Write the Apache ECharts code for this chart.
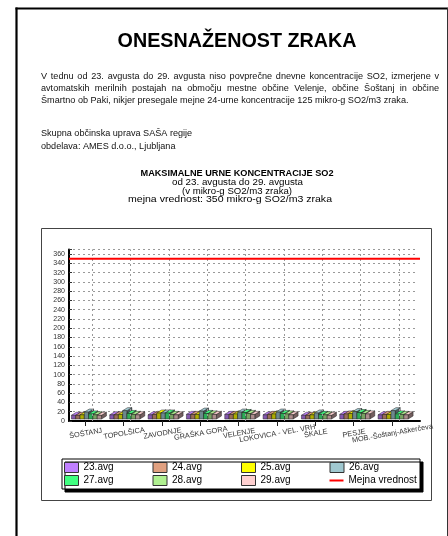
<!DOCTYPE html>
<html><head><meta charset="utf-8">
<script src="https://cdn.jsdelivr.net/npm/echarts@6/dist/echarts.min.js"></script>
<style>html,body{margin:0;padding:0;background:#fff}#c{width:448px;height:536px}</style>
</head><body><div id="c"></div>
<script>
// ---- data ----
const categories = ['ŠOŠTANJ','TOPOLŠICA','ZAVODNJE','GRAŠKA GORA','VELENJE','LOKOVICA - VEL. VRH','ŠKALE','PESJE','MOB.-Šoštanj-Aškerčeva'];
const seriesNames = ['23.avg','24.avg','25.avg','26.avg','27.avg','28.avg','29.avg'];
const avg23 = [8, 9, 9, 10, 10, 9, 8, 10, 9];
const avg24 = [8, 9, 10, 10, 10, 10, 8, 11, 10];
const avg25 = [9, 10, 13, 10, 11, 11, 9, 12, 10];
const avg26 = [15, 18, 13, 17, 15, 15, 13, 16, 18];
const avg27 = [11, 12, 13, 12, 14, 12, 10, 14, 11];
const avg28 = [9, 10, 10, 11, 12, 11, 9, 12, 10];
const avg29 = [8, 9, 9, 10, 10, 9, 8, 11, 9];
const seriesValues = [avg23, avg24, avg25, avg26, avg27, avg28, avg29];
const limitName = 'Mejna vrednost';
const limitValue = [350, 350];
const yMax = 370, yStep = 20;
const pageTitle = 'ONESNAŽENOST ZRAKA';
const paragraphLines = [
  'V tednu od 23. avgusta do 29. avgusta niso povprečne dnevne koncentracije SO2, izmerjene v',
  'avtomatskih merilnih postajah na območju mestne občine Velenje, občine Šoštanj in občine',
  'Šmartno ob Paki, nikjer presegale mejne 24-urne koncentracije 125 mikro-g SO2/m3 zraka.'
];
const creditLines = ['Skupna občinska uprava SAŠA regije', 'obdelava: AMES d.o.o., Ljubljana'];
const chartTitleLines = [
  'MAKSIMALNE URNE KONCENTRACIJE SO2',
  'od 23. avgusta do 29. avgusta',
  '(v mikro-g SO2/m3 zraka)',
  'mejna vrednost: 350 mikro-g SO2/m3 zraka'
];

// ---- styles ----
const colors = ['#c080ff','#e0a080','#ffff00','#a0c8d0','#40ff80','#b0f090','#ffd0d0'];
const FF = '"Liberation Sans", Arial, sans-serif';
const ctx = document.createElement('canvas').getContext('2d');
function textW(t, size, weight) { ctx.font = (weight || 'normal') + ' ' + size + 'px ' + FF; return ctx.measureText(t).width; }
function fit(t, target, weight) { return 100 * target / textW(t, 100, weight); }
function shade(hex, f) {
  const n = parseInt(hex.slice(1), 16);
  const r = Math.round(((n >> 16) & 255) * f), g = Math.round(((n >> 8) & 255) * f), b = Math.round((n & 255) * f);
  return 'rgb(' + r + ',' + g + ',' + b + ')';
}
function txt(text, x, y, size, weight, align, color, sx) {
  return { type: 'text', x: x, y: y, z: 10, scaleX: sx || 1, style: { text: text, fontSize: size, fontFamily: FF, fontWeight: weight || 'normal',
    fill: color || '#000', textAlign: align || 'left', align: align || 'left', textVerticalAlign: 'middle', verticalAlign: 'middle' } };
}

const graphics = [];
// page borders
graphics.push({ type: 'line', shape: { x1: 16.5, y1: 7.5, x2: 16.5, y2: 536 }, style: { stroke: '#000', lineWidth: 2.2 } });
graphics.push({ type: 'line', shape: { x1: 15.5, y1: 8.5, x2: 448, y2: 8.5 }, style: { stroke: '#000', lineWidth: 2.2 } });
graphics.push({ type: 'line', shape: { x1: 447.5, y1: 8, x2: 447.5, y2: 536 }, style: { stroke: '#333', lineWidth: 1 } });
// chart box
graphics.push({ type: 'rect', shape: { x: 41.5, y: 228.5, width: 390, height: 272 }, style: { fill: 'none', stroke: '#444', lineWidth: 1 } });

// title
graphics.push(txt(pageTitle, 237, 41.5, fit(pageTitle, 239, 'bold'), 'bold', 'center'));
// paragraph (justified)
const pSize = fit(paragraphLines[2], 368);
const pY = [76, 88, 100];
const pLeft = 41, pRight = 439;
paragraphLines.forEach(function (line, i) {
  if (i === paragraphLines.length - 1) { graphics.push(txt(line, pLeft, pY[i], pSize, 'normal', 'left', '#111')); return; }
  const words = line.split(' ');
  const widths = words.map(function (w) { return textW(w, pSize); });
  const total = widths.reduce(function (a, b) { return a + b; }, 0);
  const gap = (pRight - pLeft - total) / (words.length - 1);
  let x = pLeft;
  words.forEach(function (w, k) { graphics.push(txt(w, x, pY[i], pSize, 'normal', 'left', '#111')); x += widths[k] + gap; });
});
graphics.push(txt(creditLines[0], pLeft, 133, pSize, 'normal', 'left', '#111'));
graphics.push(txt(creditLines[1], pLeft, 146, pSize, 'normal', 'left', '#111'));
// chart title (font sizes stretched horizontally to measured widths)
const ctFont = 9.2;
const ctTargets = [193, 131, 110, 204];
const ctY = [173.5, 182.6, 191, 199.4];
const ctX = [237, 237.5, 237, 230];
chartTitleLines.forEach(function (l, i) {
  const wgt = i === 0 ? 'bold' : 'normal';
  const sx = ctTargets[i] / textW(l, ctFont, wgt);
  graphics.push(txt(l, ctX[i], ctY[i], ctFont, wgt, 'center', '#000', sx));
});

// ---- 3D bar renderer ----
function make3D(si) {
  return function (params, api) {
    const ci = api.value(0), v = api.value(1);
    const c0 = api.coord([ci, 0]), c1 = api.coord([ci, v]);
    const band = api.size([1, 0])[0];
    const w = band * 0.112;
    const x0 = c0[0] - 3.2 * w + si * w, x1 = x0 + w;
    const yb = c0[1] - 2, yt = c1[1] - 2;
    const dx = w * 1.15, dy = 3;
    const col = colors[si];
    const st = { stroke: '#222', lineWidth: 0.5 };
    return { type: 'group', children: [
      { type: 'polygon', shape: { points: [[x1, yb], [x1 + dx, yb - dy], [x1 + dx, yt - dy], [x1, yt]] }, style: Object.assign({ fill: shade(col, 0.45) }, st) },
      { type: 'polygon', shape: { points: [[x0, yt], [x1, yt], [x1 + dx, yt - dy], [x0 + dx, yt - dy]] }, style: Object.assign({ fill: col }, st) },
      { type: 'rect', shape: { x: x0, y: yt, width: w, height: yb - yt }, style: Object.assign({ fill: shade(col, 0.68) }, st) }
    ] };
  };
}

const gridTop = 249.4, gridH = 171.6;
const series = seriesNames.map(function (name, si) {
  return {
    name: name, type: 'custom', xAxisIndex: 0, yAxisIndex: 0, z: 3,
    itemStyle: { color: colors[si] },
    renderItem: make3D(si),
    encode: { x: 0, y: 1 },
    data: seriesValues[si].map(function (v, ci) { return [ci, v]; })
  };
});
// back wall vertical dashed lines
series.push({
  name: 'wall', type: 'line', xAxisIndex: 1, yAxisIndex: 1, data: categories.map(function () { return null; }),
  symbol: 'none', silent: true, z: 1,
  markLine: { silent: true, symbol: 'none', label: { show: false },
    lineStyle: { color: '#999', type: [2, 3], width: 1 },
    data: categories.map(function (c) { return { xAxis: c }; }) }
});
// limit line
series.push({
  name: limitName, type: 'line', xAxisIndex: 2, yAxisIndex: 2, symbol: 'none', z: 5,
  color: '#ff0000', lineStyle: { color: '#ff0000', width: 2 },
  data: limitValue.map(function (v, i) { return [i, v]; })
});

const legendData = seriesNames.map(function (n, i) {
  return { name: n, icon: 'rect', itemStyle: { color: colors[i], borderColor: '#333', borderWidth: 1 } };
});
legendData.push({ name: limitName, icon: 'path://M0 0H14V2H0Z', itemStyle: { color: '#ff0000', borderWidth: 0 } });

const chart = echarts.init(document.getElementById('c'), null, { renderer: 'canvas' });
chart.setOption({
  animation: false,
  backgroundColor: '#fff',
  graphic: graphics,
  grid: [
    { left: 66, top: gridTop, width: 345, height: gridH },
    { left: 73, top: gridTop, width: 345, height: gridH },
    { left: 69, top: gridTop, width: 351, height: gridH }
  ],
  xAxis: [
    { type: 'category', gridIndex: 0, data: categories, axisLine: { show: false },
      axisTick: { show: true, alignWithLabel: true, length: 5, lineStyle: { color: '#222' } },
      axisLabel: { interval: 0, rotate: 10, align: 'center', verticalAlign: 'top', margin: 9, fontSize: 7.3, fontFamily: FF, color: '#333' } },
    { type: 'category', gridIndex: 1, data: categories, show: false },
    { type: 'value', gridIndex: 2, min: 0, max: 1, axisLabel: { show: false }, axisTick: { show: false }, splitLine: { show: false },
      axisLine: { show: true, lineStyle: { color: '#000', width: 2 } } }
  ],
  yAxis: [
    { type: 'value', gridIndex: 0, min: 0, max: yMax, interval: yStep, show: false },
    { type: 'value', gridIndex: 1, min: 0, max: yMax, interval: yStep, axisLine: { show: false }, axisTick: { show: false }, axisLabel: { show: false },
      splitLine: { show: true, lineStyle: { color: '#999', type: [2, 3], width: 1 } } },
    { type: 'value', gridIndex: 2, min: 0, max: yMax, interval: yStep, splitLine: { show: false },
      axisLine: { show: true, lineStyle: { color: '#000', width: 2 } },
      axisTick: { show: true, inside: true, length: 3, lineStyle: { color: '#333' } },
      axisLabel: { fontSize: 7, fontFamily: FF, color: '#333', margin: 4, formatter: function (v) { return v % yStep === 0 ? String(v) : ''; } } }
  ],
  legend: {
    data: legendData, left: 62, top: 459, orient: 'horizontal', width: 362,
    padding: [2, 2, 2, 2], itemGap: 0, itemWidth: 14, itemHeight: 10,
    backgroundColor: '#fff', borderColor: '#000', borderWidth: 1,
    shadowColor: '#000', shadowBlur: 0, shadowOffsetX: 3, shadowOffsetY: 3,
    textStyle: { fontSize: 10, fontFamily: FF, color: '#000', width: 69, lineHeight: 13 },
    selectedMode: false
  },
  series: series
});
</script></body></html>
